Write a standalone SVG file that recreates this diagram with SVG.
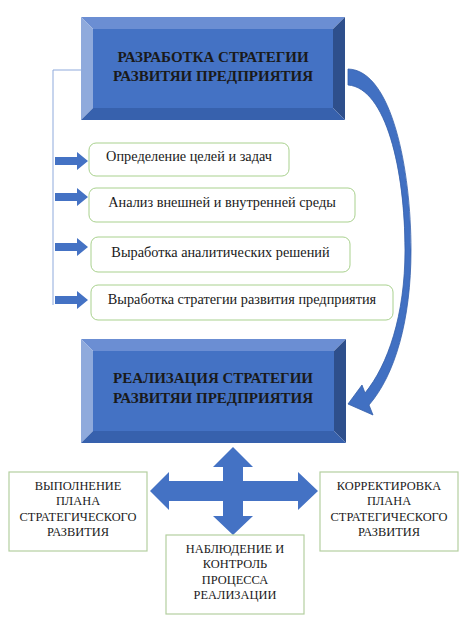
<svg xmlns="http://www.w3.org/2000/svg" width="474" height="623" viewBox="0 0 474 623">
<style>
.face{fill:#4472c4}
.bt{fill:#6b8ed3}
.bl{fill:#8faadc}
.br{fill:#2e4f8c}
.bb{fill:#3761ad}
.step{fill:#fff;stroke:#a9d18e;stroke-width:1}
.sq{fill:#fff;stroke:#b4cfa0;stroke-width:1.2}
.blue{fill:#4472c4}
</style>
<rect width="474" height="623" fill="#fff"/>
<g id="connectors">
<path d="M81 70 H53 V305" fill="none" stroke="#8faadc" stroke-width="1"/>
<path class="blue" d="M55 157 H77 V152 L88 161 L77 170 V165 H55 Z"/>
<path class="blue" d="M55 193 H77 V188 L88 197 L77 206 V201 H55 Z"/>
<path class="blue" d="M55 243 H77 V238 L88 247 L77 256 V251 H55 Z"/>
<path class="blue" d="M55 296 H77 V291 L88 300 L77 309 V304 H55 Z"/>
<path id="curved" fill="#4170c2" stroke="#3560ab" stroke-width="0.8" d="M348 69 C392 70 411 170 411 250 C411 320 395 375 369 405 L373 415 L348 404 L362 385 L365 393 C388 365 405 315 405 250 C405 170 386 88 348 85 Z"/>
<path id="cross" class="blue" d="M233 447 L253 467 H243 V481 H298 V472 L318 491 L298 510 V501 H243 V516 H253 L233 535 L213 516 H223 V501 H169 V510 L150 491 L169 472 V481 H223 V467 H213 Z"/>
</g>
<g id="node-top">
<polygon class="bt" points="81,17 345,17 333,29 93,29"/>
<polygon class="bl" points="81,17 93,29 93,108 81,120"/>
<polygon class="br" points="345,17 345,120 333,108 333,29"/>
<polygon class="bb" points="81,120 93,108 333,108 345,120"/>
<rect class="face" x="93" y="29" width="240" height="79"/>
<g font-family="'Liberation Serif', serif" font-weight="bold" font-size="15" fill="#1a1a1a" text-anchor="middle">
<text x="213" y="62">РАЗРАБОТКА СТРАТЕГИИ</text>
<text x="213" y="81">РАЗВИТЯИ ПРЕДПРИЯТИЯ</text>
</g>
</g>
<g id="step1">
<rect class="step" x="89" y="143" width="200" height="33" rx="7"/>
<text font-family="'Liberation Serif', serif" font-size="14.3" fill="#1a1a1a" text-anchor="middle" x="189" y="161">Определение целей и задач</text>
</g>
<g id="step2">
<rect class="step" x="89" y="188" width="266" height="34" rx="7"/>
<text font-family="'Liberation Serif', serif" font-size="14.3" fill="#1a1a1a" text-anchor="middle" x="222" y="207">Анализ внешней и внутренней среды</text>
</g>
<g id="step3">
<rect class="step" x="91" y="237" width="259" height="35" rx="7"/>
<text font-family="'Liberation Serif', serif" font-size="14.3" fill="#1a1a1a" text-anchor="middle" x="220.5" y="257">Выработка аналитических решений</text>
</g>
<g id="step4">
<rect class="step" x="91" y="285" width="302" height="35" rx="7"/>
<text font-family="'Liberation Serif', serif" font-size="14.3" fill="#1a1a1a" text-anchor="middle" x="242" y="304">Выработка стратегии развития предприятия</text>
</g>
<g id="node-real">
<polygon class="bt" points="81,339 346,339 334,351 93,351"/>
<polygon class="bl" points="81,339 93,351 93,431 81,443"/>
<polygon class="br" points="346,339 346,443 334,431 334,351"/>
<polygon class="bb" points="81,443 93,431 334,431 346,443"/>
<rect class="face" x="93" y="351" width="241" height="80"/>
<g font-family="'Liberation Serif', serif" font-weight="bold" font-size="15" fill="#1a1a1a" text-anchor="middle">
<text x="213" y="383">РЕАЛИЗАЦИЯ СТРАТЕГИИ</text>
<text x="213" y="403">РАЗВИТЯИ ПРЕДПРИЯТИЯ</text>
</g>
</g>
<g id="node-left">
<rect class="sq" x="9" y="472" width="138" height="79"/>
<g font-family="'Liberation Serif', serif" font-size="12.4" fill="#1a1a1a" text-anchor="middle">
<text x="78" y="489.5">ВЫПОЛНЕНИЕ</text>
<text x="78" y="505">ПЛАНА</text>
<text x="78" y="520.5">СТРАТЕГИЧЕСКОГО</text>
<text x="78" y="536">РАЗВИТИЯ</text>
</g>
</g>
<g id="node-right">
<rect class="sq" x="320" y="472" width="138" height="79"/>
<g font-family="'Liberation Serif', serif" font-size="12.4" fill="#1a1a1a" text-anchor="middle">
<text x="389" y="489.5">КОРРЕКТИРОВКА</text>
<text x="389" y="505">ПЛАНА</text>
<text x="389" y="520.5">СТРАТЕГИЧЕСКОГО</text>
<text x="389" y="536">РАЗВИТИЯ</text>
</g>
</g>
<g id="node-bottom">
<rect class="sq" x="166" y="535" width="138" height="79"/>
<g font-family="'Liberation Serif', serif" font-size="12.4" fill="#1a1a1a" text-anchor="middle">
<text x="235" y="552.5">НАБЛЮДЕНИЕ И</text>
<text x="235" y="568">КОНТРОЛЬ</text>
<text x="235" y="583.5">ПРОЦЕССА</text>
<text x="235" y="599">РЕАЛИЗАЦИИ</text>
</g>
</g>
</svg>
